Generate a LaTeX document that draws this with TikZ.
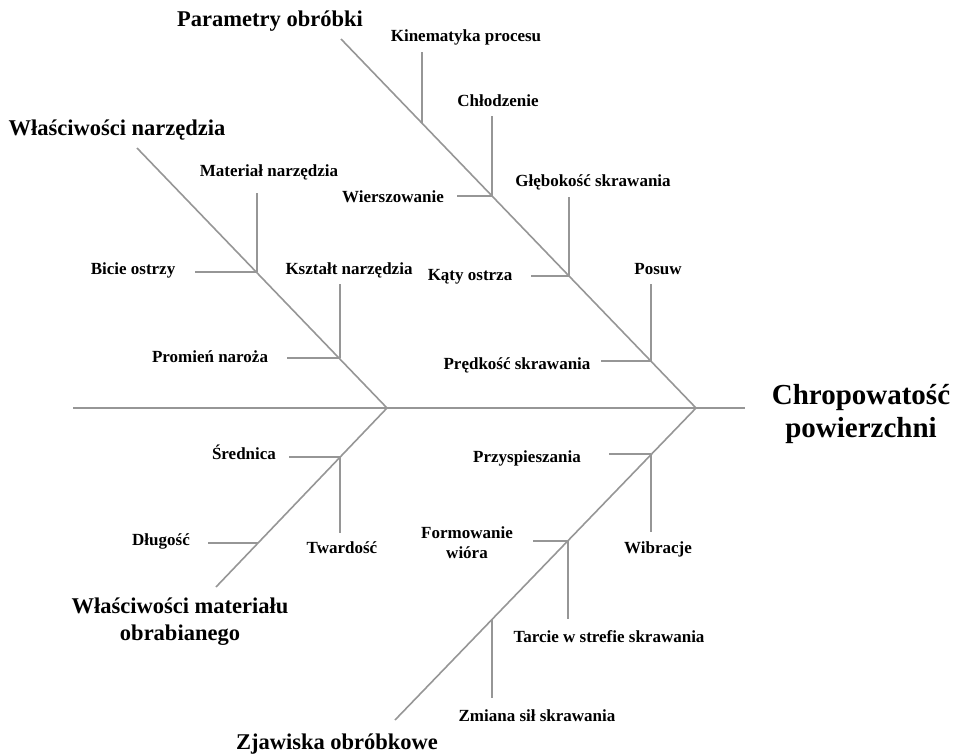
\documentclass[tikz,border=0pt]{standalone}
\usepackage{fontspec}
\setmainfont{Liberation Serif}
\usetikzlibrary{positioning}
\definecolor{bonegray}{RGB}{150,150,150}

\begin{document}
\begin{tikzpicture}[
    x=1pt, y=-1pt,
    bone/.style={draw=bonegray, line width=1.6pt},
    twig/.style={draw=bonegray, line width=1.4pt},
    cause/.style={font=\fontsize{17}{20}\selectfont\bfseries, align=center, inner sep=0pt},
    group/.style={font=\fontsize{22.5}{27}\selectfont\bfseries, align=center, inner sep=0pt},
    effect/.style={font=\fontsize{29}{33}\selectfont\bfseries, align=center, inner sep=0pt}
]
\useasboundingbox (0,0) rectangle (955,755);

% Spine and main bones
\coordinate (tail) at (73,408);
\coordinate (head) at (745,408);
\coordinate (jointL) at (387,408);
\coordinate (jointR) at (696,408);
\coordinate (paramEnd) at (341,39);
\coordinate (toolEnd) at (137,148);
\coordinate (matEnd) at (216,587);
\coordinate (phenEnd) at (395,720);

\draw[bone] (tail) -- (head);
\draw[bone] (paramEnd) -- (jointR);
\draw[bone] (toolEnd) -- (jointL);
\draw[bone] (jointL) -- (matEnd);
\draw[bone] (jointR) -- (phenEnd);

% Effect and group titles
\node[effect] (effect) at (861,414) {Chropowatość\\powierzchni};
\node[group] (param) at (270,21) {Parametry obróbki};
\node[group] (tool) at (117,130) {Właściwości narzędzia};
\node[group] (material) at (180,622) {Właściwości materiału\\obrabianego};
\node[group] (phen) at (337,744) {Zjawiska obróbkowe};

% Parametry obróbki
\coordinate (kinJ) at (422,123);
\coordinate (kinT) at (422,52);
\coordinate (chlJ) at (492,196);
\coordinate (chlT) at (492,116);
\coordinate (wieS) at (457,196);
\coordinate (gleJ) at (569,276);
\coordinate (gleT) at (569,197);
\coordinate (katS) at (531,276);
\coordinate (posJ) at (651,361);
\coordinate (posT) at (651,284);
\coordinate (preS) at (601,361);

\draw[twig] (kinJ) -- (kinT);
\draw[twig] (chlJ) -- (chlT);
\draw[twig] (wieS) -- (chlJ);
\draw[twig] (gleJ) -- (gleT);
\draw[twig] (katS) -- (gleJ);
\draw[twig] (posJ) -- (posT);
\draw[twig] (preS) -- (posJ);

\node[cause] (kin) at (466,37) {Kinematyka procesu};
\node[cause] (chl) at (498,101) {Chłodzenie};
\node[cause] (wie) at (393,197) {Wierszowanie};
\node[cause] (gle) at (593,182) {Głębokość skrawania};
\node[cause] (kat) at (470,277) {Kąty ostrza};
\node[cause] (pos) at (658,269) {Posuw};
\node[cause] (pre) at (517,365) {Prędkość skrawania};

% Właściwości narzędzia
\coordinate (mtnJ) at (257,272);
\coordinate (mtnT) at (257,193);
\coordinate (bicS) at (195,272);
\coordinate (kszJ) at (340,358);
\coordinate (kszT) at (340,284);
\coordinate (proS) at (287,358);

\draw[twig] (mtnJ) -- (mtnT);
\draw[twig] (bicS) -- (mtnJ);
\draw[twig] (kszJ) -- (kszT);
\draw[twig] (proS) -- (kszJ);

\node[cause] (mtn) at (269,172) {Materiał narzędzia};
\node[cause] (bic) at (133,270) {Bicie ostrzy};
\node[cause] (ksz) at (349,270) {Kształt narzędzia};
\node[cause] (pro) at (210,357) {Promień naroża};

% Właściwości materiału obrabianego
\coordinate (sreJ) at (340,457);
\coordinate (sreS) at (289,457);
\coordinate (twaB) at (340,533);
\coordinate (dluJ) at (258,543);
\coordinate (dluS) at (208,543);

\draw[twig] (sreS) -- (sreJ);
\draw[twig] (sreJ) -- (twaB);
\draw[twig] (dluS) -- (dluJ);

\node[cause] (sre) at (244,452) {Średnica};
\node[cause] (twa) at (342,548) {Twardość};
\node[cause] (dlu) at (161,541) {Długość};

% Zjawiska obróbkowe
\coordinate (przJ) at (651,454);
\coordinate (przS) at (609,454);
\coordinate (wibB) at (651,532);
\coordinate (forJ) at (568,541);
\coordinate (forS) at (533,541);
\coordinate (tarB) at (568,619);
\coordinate (zmiJ) at (492,619);
\coordinate (zmiB) at (492,698);

\draw[twig] (przS) -- (przJ);
\draw[twig] (przJ) -- (wibB);
\draw[twig] (forS) -- (forJ);
\draw[twig] (forJ) -- (tarB);
\draw[twig] (zmiJ) -- (zmiB);

\node[cause] (prz) at (527,458) {Przyspieszania};
\node[cause] (wib) at (658,549) {Wibracje};
\node[cause] (for) at (467,543) {Formowanie\\wióra};
\node[cause] (tar) at (609,637) {Tarcie w strefie skrawania};
\node[cause] (zmi) at (537,716) {Zmiana sił skrawania};

\end{tikzpicture}
\end{document}
